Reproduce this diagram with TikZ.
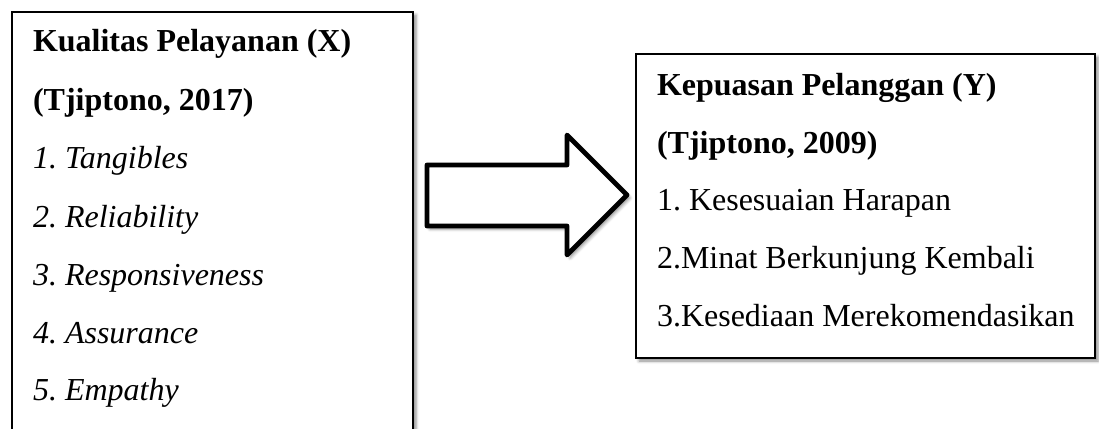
\documentclass[tikz,border=0pt]{standalone}
\usepackage{fontspec}
\setmainfont{Liberation Serif}
\usetikzlibrary{shadows.blur}
\frenchspacing
\begin{document}
\begin{tikzpicture}[x=1pt,y=-1pt,
  box/.style={draw=black, line width=2.8pt, fill=white, inner sep=0pt, outer sep=0pt, anchor=north west,
    blur shadow={shadow xshift=3pt, shadow yshift=-3pt, shadow blur radius=3pt, shadow opacity=45}},
  txt/.style={anchor=base west, inner sep=0pt, outer sep=0pt, font=\fontsize{32}{38}\selectfont\frenchspacing},
  hd/.style={txt, font=\fontsize{32}{38}\selectfont\bfseries\frenchspacing},
  it/.style={txt, font=\fontsize{32}{38}\selectfont\itshape\frenchspacing},
  blockarrow/.style={draw=black, line width=4.8pt, fill=white, line join=round,
    blur shadow={shadow xshift=3pt, shadow yshift=-3pt, shadow blur radius=3pt, shadow opacity=45}}
]
\useasboundingbox (0,0) rectangle (1099,428);
% left box
\node[box, minimum width=401pt, minimum height=440pt] (X) at (12,12) {};
\node[hd] (x1) at (33,52) {Kualitas Pelayanan (X)};
\node[hd] (x2) at (33,110) {(Tjiptono, 2017)};
\node[it] (x3) at (33,168) {1. Tangibles};
\node[it] (x4) at (33,227) {2. Reliability};
\node[it] (x5) at (33,285) {3. Responsiveness};
\node[it] (x6) at (33,343) {4. Assurance};
\node[it] (x7) at (33,400) {5. Empathy};
% right box
\node[box, minimum width=459pt, minimum height=304pt] (Y) at (636,54) {};
\node[hd] (y1) at (657,95) {Kepuasan Pelanggan (Y)};
\node[hd] (y2) at (657,153) {(Tjiptono, 2009)};
\node[txt] (y3) at (657,210) {1. Kesesuaian Harapan};
\node[txt] (y4) at (657,268) {2.Minat Berkunjung Kembali};
\node[txt] (y5) at (657,326) {3.Kesediaan Merekomendasikan};
% block arrow
\draw[blockarrow] (427,165) -- (567,165) -- (567,135) -- (627,195) -- (567,255) -- (567,226) -- (427,226) -- cycle;
\end{tikzpicture}
\end{document}
